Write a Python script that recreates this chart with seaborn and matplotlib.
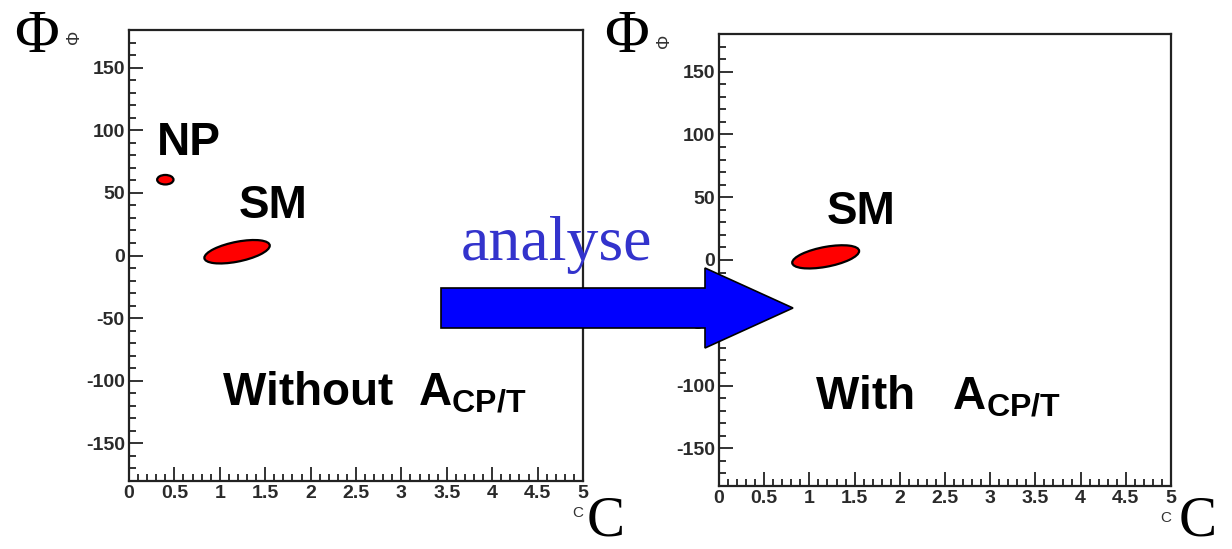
import numpy as np
import matplotlib
matplotlib.use("Agg")
import matplotlib.pyplot as plt
import seaborn as sns
from matplotlib.patches import Circle, FancyArrow
from matplotlib.transforms import Affine2D
from matplotlib.ticker import MultipleLocator, FormatStrFormatter

# 数据：置信区域（椭圆）参数
panels = ["without", "with"]
blob_names = {"without": ["NP", "SM"], "with": ["SM"]}
blob_c = {"without": [0.40, 1.19], "with": [1.18]}          # 中心 C
blob_phi = {"without": [60.5, 3.0], "with": [2.5]}          # 中心 Φ
blob_half_c = {"without": [0.09, 0.36], "with": [0.37]}     # C 方向半宽
blob_half_phi = {"without": [3.8, 8.0], "with": [8.0]}      # Φ 方向半厚
blob_slope = {"without": [0.0, 13.5], "with": [12.5]}       # 倾斜 dΦ/dC

# 标签位置 (C, Φ)
label_c = {"without": [0.31, 1.21], "with": [1.19]}
label_phi = {"without": [80, 30], "with": [29]}
caption = {"without": "Without  A", "with": "With   A"}
caption_c = {"without": 1.02, "with": 1.06}
caption_phi = -119

x_ticks = np.arange(0, 5.01, 0.5)
y_ticks = np.arange(-150, 151, 50)

sns.set_style("ticks")
plt.rcParams["font.family"] = ["Liberation Sans", "DejaVu Sans"]
plt.rcParams["mathtext.fontset"] = "custom"
plt.rcParams["mathtext.bf"] = "Liberation Sans:bold"
plt.rcParams["mathtext.rm"] = "Liberation Sans"
plt.rcParams["axes.unicode_minus"] = False

fig = plt.figure(figsize=(12.32, 5.49), dpi=100)
fig.patch.set_facecolor("white")

ax_pos = {"without": [129 / 1232, 1 - 481 / 549, 454 / 1232, 451 / 549],
          "with": [719 / 1232, 1 - 486 / 549, 452 / 1232, 452 / 549]}

for key in panels:
    ax = fig.add_axes(ax_pos[key])
    ax.set_xlim(0, 5)
    ax.set_ylim(-180, 180)
    ax.set_facecolor("white")
    for sp in ax.spines.values():
        sp.set_visible(True)
        sp.set_linewidth(1.6)
        sp.set_color("#222222")
    ax.xaxis.set_major_locator(MultipleLocator(0.5))
    ax.xaxis.set_minor_locator(MultipleLocator(0.1))
    ax.yaxis.set_major_locator(MultipleLocator(50))
    ax.yaxis.set_minor_locator(MultipleLocator(10))
    ax.set_xticks(x_ticks)
    ax.set_yticks(y_ticks)
    ax.xaxis.set_major_formatter(FormatStrFormatter("%g"))
    ax.tick_params(which="both", direction="in", bottom=True, left=True,
                   top=False, right=False, colors="#222222", width=1.3)
    ax.tick_params(which="major", length=10, labelsize=14, pad=3)
    ax.tick_params(which="minor", length=5)
    for lab in ax.get_xticklabels() + ax.get_yticklabels():
        lab.set_fontweight("bold")
        lab.set_color("#2a2a2a")

    # 椭圆区域
    for i in range(len(blob_c[key])):
        a = blob_half_c[key][i]
        b = blob_half_phi[key][i]
        s = blob_slope[key][i]
        m = np.array([[a, 0, blob_c[key][i]],
                      [a * s, b, blob_phi[key][i]],
                      [0, 0, 1]])
        ell = Circle((0, 0), 1, transform=Affine2D(m) + ax.transData,
                     facecolor="#ff0000", edgecolor="black", lw=1.6, zorder=3)
        ax.add_patch(ell)
        ax.text(label_c[key][i], label_phi[key][i], blob_names[key][i],
                fontsize=33, fontweight="bold", color="black")

    ax.text(caption_c[key], caption_phi, caption[key] + r"$_{\mathbf{CP/T}}$",
            fontsize=33, fontweight="bold", color="black")

    ax.set_xlabel("C", loc="right", fontsize=11, color="#333333", labelpad=3)
    ax.set_ylabel("Φ", loc="top", fontsize=13, color="#333333", labelpad=2)

# 大号 Φ 和 C
serif = ["Liberation Serif", "DejaVu Serif"]
fig.text(14 / 1232, 1 - 52 / 549, "Φ", fontsize=44, family=serif, color="black")
fig.text(604 / 1232, 1 - 52 / 549, "Φ", fontsize=44, family=serif, color="black")
fig.text(587 / 1232, 2 / 549, "C", fontsize=41, family=serif, color="black",
         va="bottom")
fig.text(1179 / 1232, 2 / 549, "C", fontsize=41, family=serif, color="black",
         va="bottom")

# 箭头和 "analyse"
arrow = FancyArrow(441 / 1232, 1 - 308 / 549, 352 / 1232, 0,
                   width=40 / 549, head_width=80 / 549, head_length=88 / 1232,
                   length_includes_head=True, transform=fig.transFigure,
                   facecolor="#0000ff", edgecolor="black", lw=1.2, zorder=10)
fig.patches.append(arrow)
fig.text(461 / 1232, 1 - 260 / 549, "analyse", fontsize=46, family=serif,
         color="#3333cc", zorder=11)

fig.savefig("out.png", dpi=100, facecolor="white")
